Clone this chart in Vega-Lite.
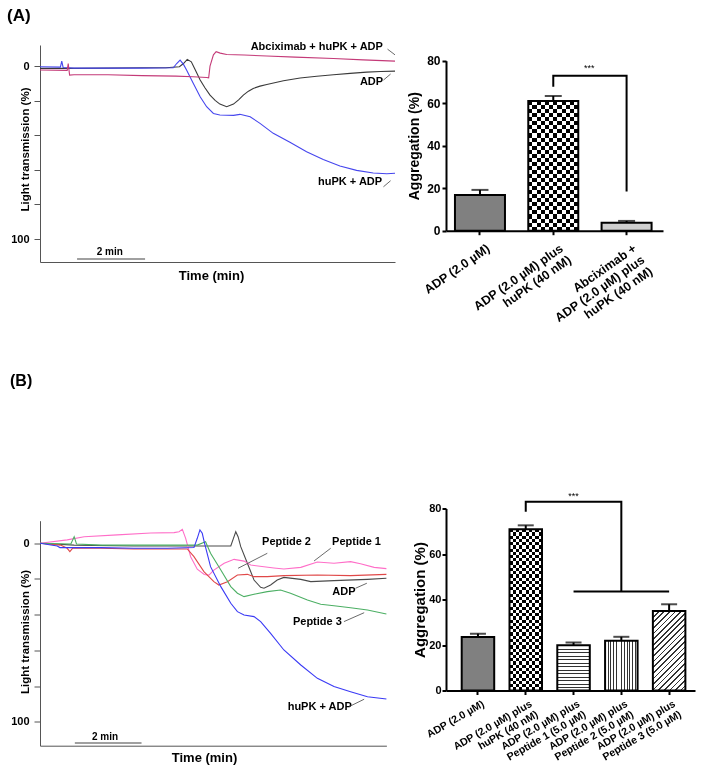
{
  "$schema": "https://vega.github.io/schema/vega-lite/v6.json",
  "padding": {"left": 7, "top": 6, "right": 5, "bottom": 5},
  "background": "white",
  "config": {
    "view": {"stroke": null},
    "font": "Liberation Sans",
    "axis": {"grid": false, "labelFont": "Liberation Sans", "titleFont": "Liberation Sans", "labelFontWeight": "bold", "titleFontWeight": "bold", "labelColor": "#000", "titleColor": "#000"},
    "text": {"font": "Liberation Sans"}
  },
  "columns": 2,
  "spacing": {"row": 246.5, "column": 51},
  "bounds": "flush",
  "resolve": {"scale": {"color": "independent"}},
  "datasets": {
    "traceA": [
      {"s":"ADP","t":0,"v":1.3},{"s":"ADP","t":1.0,"v":1.3},{"s":"ADP","t":2.0,"v":1.2},{"s":"ADP","t":3.0,"v":1.0},{"s":"ADP","t":3.7,"v":1.0},{"s":"ADP","t":4.1,"v":0.4},{"s":"ADP","t":4.22,"v":-1.5},{"s":"ADP","t":4.33,"v":-3.9},{"s":"ADP","t":4.45,"v":-2.5},{"s":"ADP","t":4.55,"v":1.5},{"s":"ADP","t":4.71,"v":8.1},{"s":"ADP","t":4.85,"v":12.5},{"s":"ADP","t":5.0,"v":16.8},{"s":"ADP","t":5.15,"v":19.8},{"s":"ADP","t":5.29,"v":22.0},{"s":"ADP","t":5.49,"v":23.5},{"s":"ADP","t":5.69,"v":22.0},{"s":"ADP","t":5.84,"v":19.5},{"s":"ADP","t":5.98,"v":16.8},{"s":"ADP","t":6.13,"v":14.5},{"s":"ADP","t":6.27,"v":12.9},{"s":"ADP","t":6.47,"v":11.6},{"s":"ADP","t":6.67,"v":10.6},{"s":"ADP","t":7.16,"v":8.5},{"s":"ADP","t":7.65,"v":6.9},{"s":"ADP","t":8.14,"v":5.9},{"s":"ADP","t":8.63,"v":5.0},{"s":"ADP","t":9.12,"v":4.2},{"s":"ADP","t":9.61,"v":3.5},{"s":"ADP","t":10.02,"v":3.1},{"s":"ADP","t":10.44,"v":2.9},
      {"s":"huPK + ADP","t":0,"v":0.4},{"s":"huPK + ADP","t":0.6,"v":0.6},{"s":"huPK + ADP","t":0.64,"v":-2.9},{"s":"huPK + ADP","t":0.68,"v":0.8},{"s":"huPK + ADP","t":1.0,"v":1.2},{"s":"huPK + ADP","t":2.0,"v":1.2},{"s":"huPK + ADP","t":3.0,"v":1.2},{"s":"huPK + ADP","t":3.92,"v":1.0},{"s":"huPK + ADP","t":4.02,"v":-1.5},{"s":"huPK + ADP","t":4.12,"v":-3.5},{"s":"huPK + ADP","t":4.22,"v":-1.0},{"s":"huPK + ADP","t":4.31,"v":2.3},{"s":"huPK + ADP","t":4.51,"v":10.0},{"s":"huPK + ADP","t":4.71,"v":17.7},{"s":"huPK + ADP","t":4.9,"v":23.5},{"s":"huPK + ADP","t":5.1,"v":27.4},{"s":"huPK + ADP","t":5.29,"v":28.3},{"s":"huPK + ADP","t":5.69,"v":28.5},{"s":"huPK + ADP","t":5.88,"v":27.9},{"s":"huPK + ADP","t":6.18,"v":29.3},{"s":"huPK + ADP","t":6.47,"v":33.1},{"s":"huPK + ADP","t":6.86,"v":38.9},{"s":"huPK + ADP","t":7.35,"v":44.0},{"s":"huPK + ADP","t":7.84,"v":49.5},{"s":"huPK + ADP","t":8.33,"v":54.0},{"s":"huPK + ADP","t":8.82,"v":57.8},{"s":"huPK + ADP","t":9.31,"v":60.3},{"s":"huPK + ADP","t":9.8,"v":61.8},{"s":"huPK + ADP","t":10.2,"v":62.3},{"s":"huPK + ADP","t":10.44,"v":62.0},
      {"s":"Abciximab + huPK + ADP","t":0,"v":2.3},{"s":"Abciximab + huPK + ADP","t":0.8,"v":2.5},{"s":"Abciximab + huPK + ADP","t":0.83,"v":-1.5},{"s":"Abciximab + huPK + ADP","t":0.87,"v":5.2},{"s":"Abciximab + huPK + ADP","t":1.0,"v":5.0},{"s":"Abciximab + huPK + ADP","t":2.0,"v":5.0},{"s":"Abciximab + huPK + ADP","t":3.0,"v":5.5},{"s":"Abciximab + huPK + ADP","t":4.0,"v":5.8},{"s":"Abciximab + huPK + ADP","t":4.5,"v":6.2},{"s":"Abciximab + huPK + ADP","t":4.9,"v":6.6},{"s":"Abciximab + huPK + ADP","t":4.96,"v":6.8},{"s":"Abciximab + huPK + ADP","t":5.0,"v":0},{"s":"Abciximab + huPK + ADP","t":5.1,"v":-6.5},{"s":"Abciximab + huPK + ADP","t":5.18,"v":-8.3},{"s":"Abciximab + huPK + ADP","t":5.3,"v":-7.5},{"s":"Abciximab + huPK + ADP","t":5.49,"v":-6.7},{"s":"Abciximab + huPK + ADP","t":6.0,"v":-6.4},{"s":"Abciximab + huPK + ADP","t":6.67,"v":-5.8},{"s":"Abciximab + huPK + ADP","t":7.5,"v":-5.2},{"s":"Abciximab + huPK + ADP","t":8.63,"v":-4.4},{"s":"Abciximab + huPK + ADP","t":9.5,"v":-3.6},{"s":"Abciximab + huPK + ADP","t":10.44,"v":-2.9}
    ],
    "traceB": [
      {"s":"ADP","t":0,"v":0},{"s":"ADP","t":1.03,"v":1.0},{"s":"ADP","t":2.83,"v":1.5},{"s":"ADP","t":4.84,"v":1.5},{"s":"ADP","t":5.75,"v":1.5},{"s":"ADP","t":5.83,"v":-2.8},{"s":"ADP","t":5.9,"v":-6.5},{"s":"ADP","t":5.97,"v":-3.7},{"s":"ADP","t":6.05,"v":1.9},{"s":"ADP","t":6.25,"v":11.2},{"s":"ADP","t":6.45,"v":20.6},{"s":"ADP","t":6.65,"v":24.7},{"s":"ADP","t":6.75,"v":25.2},{"s":"ADP","t":6.95,"v":23.4},{"s":"ADP","t":7.15,"v":20.6},{"s":"ADP","t":7.35,"v":19.1},{"s":"ADP","t":7.86,"v":20.2},{"s":"ADP","t":8.16,"v":21.5},{"s":"ADP","t":8.86,"v":20.9},{"s":"ADP","t":9.87,"v":20.2},{"s":"ADP","t":10.44,"v":19.6},
      {"s":"Peptide 1","t":0,"v":0},{"s":"Peptide 1","t":0.82,"v":-1.9},{"s":"Peptide 1","t":1.33,"v":-3.7},{"s":"Peptide 1","t":2.33,"v":-4.7},{"s":"Peptide 1","t":3.34,"v":-5.8},{"s":"Peptide 1","t":4.04,"v":-6.0},{"s":"Peptide 1","t":4.19,"v":-6.5},{"s":"Peptide 1","t":4.29,"v":-7.8},{"s":"Peptide 1","t":4.39,"v":-2.8},{"s":"Peptide 1","t":4.54,"v":7.5},{"s":"Peptide 1","t":4.74,"v":14.5},{"s":"Peptide 1","t":4.95,"v":17.5},{"s":"Peptide 1","t":5.09,"v":17.8},{"s":"Peptide 1","t":5.24,"v":15.0},{"s":"Peptide 1","t":5.55,"v":11.2},{"s":"Peptide 1","t":5.85,"v":9.0},{"s":"Peptide 1","t":6.15,"v":10.0},{"s":"Peptide 1","t":6.35,"v":12.2},{"s":"Peptide 1","t":7.05,"v":13.8},{"s":"Peptide 1","t":7.35,"v":14.4},{"s":"Peptide 1","t":7.86,"v":13.5},{"s":"Peptide 1","t":8.36,"v":10.5},{"s":"Peptide 1","t":8.86,"v":11.2},{"s":"Peptide 1","t":9.36,"v":10.3},{"s":"Peptide 1","t":9.66,"v":11.5},{"s":"Peptide 1","t":10.07,"v":13.5},{"s":"Peptide 1","t":10.44,"v":14.2},
      {"s":"Peptide 2","t":0,"v":0},{"s":"Peptide 2","t":0.62,"v":1.0},{"s":"Peptide 2","t":0.82,"v":2.8},{"s":"Peptide 2","t":0.9,"v":4.7},{"s":"Peptide 2","t":0.98,"v":2.8},{"s":"Peptide 2","t":1.83,"v":2.8},{"s":"Peptide 2","t":2.83,"v":3.2},{"s":"Peptide 2","t":3.84,"v":3.2},{"s":"Peptide 2","t":4.44,"v":3.2},{"s":"Peptide 2","t":4.64,"v":7.5},{"s":"Peptide 2","t":4.94,"v":15.9},{"s":"Peptide 2","t":5.24,"v":21.5},{"s":"Peptide 2","t":5.39,"v":23.4},{"s":"Peptide 2","t":5.65,"v":21.5},{"s":"Peptide 2","t":5.95,"v":17.8},{"s":"Peptide 2","t":6.25,"v":17.4},{"s":"Peptide 2","t":6.45,"v":18.7},{"s":"Peptide 2","t":6.85,"v":18.7},{"s":"Peptide 2","t":7.35,"v":18.1},{"s":"Peptide 2","t":8.36,"v":17.8},{"s":"Peptide 2","t":9.36,"v":18.1},{"s":"Peptide 2","t":10.44,"v":17.4},
      {"s":"Peptide 3","t":0,"v":0},{"s":"Peptide 3","t":0.93,"v":0.4},{"s":"Peptide 3","t":1.03,"v":-3.7},{"s":"Peptide 3","t":1.1,"v":0.4},{"s":"Peptide 3","t":1.83,"v":1.0},{"s":"Peptide 3","t":2.83,"v":1.0},{"s":"Peptide 3","t":3.84,"v":1.0},{"s":"Peptide 3","t":4.74,"v":1.0},{"s":"Peptide 3","t":4.99,"v":-0.9},{"s":"Peptide 3","t":5.14,"v":5.6},{"s":"Peptide 3","t":5.45,"v":15.0},{"s":"Peptide 3","t":5.75,"v":24.3},{"s":"Peptide 3","t":5.95,"v":28.0},{"s":"Peptide 3","t":6.15,"v":29.9},{"s":"Peptide 3","t":6.45,"v":28.6},{"s":"Peptide 3","t":6.85,"v":27.1},{"s":"Peptide 3","t":7.25,"v":26.2},{"s":"Peptide 3","t":7.55,"v":28.0},{"s":"Peptide 3","t":8.06,"v":31.8},{"s":"Peptide 3","t":8.46,"v":34.2},{"s":"Peptide 3","t":8.86,"v":35.0},{"s":"Peptide 3","t":9.36,"v":36.1},{"s":"Peptide 3","t":9.87,"v":37.4},{"s":"Peptide 3","t":10.44,"v":39.6},
      {"s":"huPK + ADP","t":0,"v":0},{"s":"huPK + ADP","t":0.52,"v":1.5},{"s":"huPK + ADP","t":0.6,"v":2.4},{"s":"huPK + ADP","t":1.83,"v":2.4},{"s":"huPK + ADP","t":2.83,"v":2.8},{"s":"huPK + ADP","t":3.84,"v":2.8},{"s":"huPK + ADP","t":4.64,"v":2.4},{"s":"huPK + ADP","t":4.74,"v":-2.8},{"s":"huPK + ADP","t":4.82,"v":-7.5},{"s":"huPK + ADP","t":4.89,"v":-5.6},{"s":"huPK + ADP","t":4.96,"v":0},{"s":"huPK + ADP","t":5.14,"v":13.1},{"s":"huPK + ADP","t":5.45,"v":24.3},{"s":"huPK + ADP","t":5.75,"v":33.6},{"s":"huPK + ADP","t":5.95,"v":38.3},{"s":"huPK + ADP","t":6.15,"v":40.2},{"s":"huPK + ADP","t":6.45,"v":41.1},{"s":"huPK + ADP","t":6.65,"v":43.9},{"s":"huPK + ADP","t":6.95,"v":50.5},{"s":"huPK + ADP","t":7.35,"v":59.8},{"s":"huPK + ADP","t":7.86,"v":68.2},{"s":"huPK + ADP","t":8.36,"v":75.7},{"s":"huPK + ADP","t":8.86,"v":80.3},{"s":"huPK + ADP","t":9.36,"v":83.2},{"s":"huPK + ADP","t":9.87,"v":86.0},{"s":"huPK + ADP","t":10.44,"v":87.3}
    ],
    "labelsA": [
      {"t":8.14,"v":-11.2,"label":"Abciximab + huPK + ADP"},
      {"t":9.75,"v":9.1,"label":"ADP"},
      {"t":9.12,"v":66.9,"label":"huPK + ADP"}
    ],
    "arrowsA": [
      {"t1":10.22,"v1":-9.8,"t2":10.44,"v2":-6.5},
      {"t1":10.1,"v1":8.1,"t2":10.31,"v2":4.6},
      {"t1":10.1,"v1":69.8,"t2":10.31,"v2":66.3}
    ],
    "labelsB": [
      {"t":7.43,"v":-0.56,"label":"Peptide 2"},
      {"t":9.54,"v":-0.56,"label":"Peptide 1"},
      {"t":9.16,"v":27.1,"label":"ADP"},
      {"t":8.36,"v":43.9,"label":"Peptide 3"},
      {"t":8.43,"v":91.6,"label":"huPK + ADP"}
    ],
    "arrowsB": [
      {"t1":6.85,"v1":5.6,"t2":5.97,"v2":14.0},
      {"t1":8.76,"v1":2.8,"t2":8.26,"v2":9.9},
      {"t1":9.51,"v1":25.2,"t2":9.85,"v2":22.4},
      {"t1":9.16,"v1":43.9,"t2":9.77,"v2":38.9},
      {"t1":9.31,"v1":91.6,"t2":9.77,"v2":87.4}
    ],
    "scalebarA": [{"t1":1.09,"t2":3.09,"v":111.6,"tm":2.05,"vt":107.3,"label":"2 min"}],
    "scalebarB": [{"t1":1.05,"t2":3.06,"v":111.9,"tm":1.96,"vt":108.6,"label":"2 min"}],
    "barsA": [
      {"g":"ADP (2.0 µM)","m":16.8,"e":19.2},
      {"g":"ADP (2.0 µM) plus|huPK (40 nM)","m":61.0,"e":63.4},
      {"g":"Abciximab +|ADP (2.0 µM) plus|huPK (40 nM)","m":3.8,"e":4.6}
    ],
    "bracketA": [
      {"g":"ADP (2.0 µM) plus|huPK (40 nM)","y":67.8,"o":1},
      {"g":"ADP (2.0 µM) plus|huPK (40 nM)","y":72.9,"o":2},
      {"g":"Abciximab +|ADP (2.0 µM) plus|huPK (40 nM)","y":72.9,"o":3},
      {"g":"Abciximab +|ADP (2.0 µM) plus|huPK (40 nM)","y":18.4,"o":4}
    ],
    "starsA": [{"g":"ADP (2.0 µM) plus|huPK (40 nM)","y":76.8,"label":"***"}],
    "barsB": [
      {"g":"ADP (2.0 µM)","m":23.5,"e":25.0},
      {"g":"ADP (2.0 µM) plus|huPK (40 nM)","m":70.9,"e":72.6},
      {"g":"ADP (2.0 µM) plus|Peptide 1 (5.0 µM)","m":19.9,"e":21.1},
      {"g":"ADP (2.0 µM) plus|Peptide 2 (5.0 µM)","m":21.9,"e":23.6},
      {"g":"ADP (2.0 µM) plus|Peptide 3 (5.0 µM)","m":35.0,"e":37.9}
    ],
    "bracketB": [
      {"g":"ADP (2.0 µM) plus|huPK (40 nM)","y":78.6,"o":1,"k":"a"},
      {"g":"ADP (2.0 µM) plus|huPK (40 nM)","y":83.0,"o":2,"k":"a"},
      {"g":"ADP (2.0 µM) plus|Peptide 2 (5.0 µM)","y":83.0,"o":3,"k":"a"},
      {"g":"ADP (2.0 µM) plus|Peptide 2 (5.0 µM)","y":43.5,"o":4,"k":"a"},
      {"g":"ADP (2.0 µM) plus|Peptide 1 (5.0 µM)","y":43.5,"o":1,"k":"b"},
      {"g":"ADP (2.0 µM) plus|Peptide 3 (5.0 µM)","y":43.5,"o":2,"k":"b"}
    ],
    "starsB": [{"g":"ADP (2.0 µM) plus|Peptide 1 (5.0 µM)","y":85.6,"label":"***"}]
  },
  "concat": [
    {
      "width": 355,
      "height": 217,
      "title": {"text": "(A)", "anchor": "start", "frame": "group", "dx": -33, "offset": 16, "fontSize": 17, "fontWeight": "bold", "font": "Liberation Sans", "color": "#000"},
      "layer": [
        {
          "data": {"name": "traceA"},
          "mark": {"type": "line", "strokeWidth": 1.1},
          "encoding": {
            "x": {"field": "t", "type": "quantitative", "scale": {"domain": [0, 10.44], "nice": false, "zero": false},
                  "axis": {"ticks": false, "labels": false, "title": "Time (min)", "titleFontSize": 13, "titlePadding": 7, "titleX": 171, "domainColor": "#555"}},
            "y": {"field": "v", "type": "quantitative", "scale": {"domain": [-12.2, 113.3], "range": [0, 217], "nice": false, "zero": false},
                  "axis": {"values": [0, 20, 40, 60, 80, 100], "labelExpr": "datum.value == 0 || datum.value == 100 ? datum.label : ''", "title": "Light transmission (%)", "titleFontSize": 11.5, "titleX": -9.5, "titleY": 104, "tickSize": 6, "labelPadding": 5, "labelFontSize": 11, "domainColor": "#555", "tickColor": "#555"}},
            "color": {"field": "s", "type": "nominal", "legend": null,
                      "scale": {"domain": ["ADP", "huPK + ADP", "Abciximab + huPK + ADP"], "range": ["#3a3a3a", "#4646ee", "#c43a78"]}}
          }
        },
        {
          "data": {"name": "scalebarA"},
          "mark": {"type": "rule", "color": "#808080", "strokeWidth": 1.5},
          "encoding": {"x": {"field": "t1", "type": "quantitative"}, "x2": {"field": "t2"}, "y": {"field": "v", "type": "quantitative"}}
        },
        {
          "data": {"name": "scalebarA"},
          "mark": {"type": "text", "fontSize": 10, "fontWeight": "bold", "baseline": "middle"},
          "encoding": {"x": {"field": "tm", "type": "quantitative"}, "y": {"field": "vt", "type": "quantitative"}, "text": {"field": "label"}}
        },
        {
          "data": {"name": "labelsA"},
          "mark": {"type": "text", "fontSize": 11, "fontWeight": "bold", "baseline": "middle", "align": "center"},
          "encoding": {"x": {"field": "t", "type": "quantitative"}, "y": {"field": "v", "type": "quantitative"}, "text": {"field": "label"}}
        },
        {
          "data": {"name": "arrowsA"},
          "mark": {"type": "rule", "color": "#444", "strokeWidth": 0.8},
          "encoding": {"x": {"field": "t1", "type": "quantitative"}, "x2": {"field": "t2"}, "y": {"field": "v1", "type": "quantitative"}, "y2": {"field": "v2"}}
        }
      ]
    },
    {
      "width": 217,
      "height": 185.7,
      "layer": [
        {
          "data": {"name": "barsA"},
          "mark": {"type": "bar"},
          "encoding": {
            "x": {"field": "g", "type": "nominal",
                  "scale": {"domain": ["ADP (2.0 µM)", "ADP (2.0 µM) plus|huPK (40 nM)", "Abciximab +|ADP (2.0 µM) plus|huPK (40 nM)"], "paddingInner": 0.318, "paddingOuter": 0.139, "align": 0.44},
                  "axis": {"title": null, "labelExpr": "[pad(split(datum.value,'|')[0], max(length(split(datum.value,'|')[0]), length(split(datum.value,'|')[1] || ''), length(split(datum.value,'|')[2] || '')), '\u2002', 'center'), pad(split(datum.value,'|')[1] || '', max(length(split(datum.value,'|')[0]), length(split(datum.value,'|')[1] || ''), length(split(datum.value,'|')[2] || '')), '\u2002', 'center'), pad(split(datum.value,'|')[2] || '', max(length(split(datum.value,'|')[0]), length(split(datum.value,'|')[1] || ''), length(split(datum.value,'|')[2] || '')), '\u2002', 'center')]", "labelAngle": -35, "labelAlign": "right", "labelBaseline": "top", "labelFontSize": 12.5, "labelLineHeight": 14, "labelPadding": 7, "labelOffset": 5, "tickSize": 4, "tickWidth": 2, "domainWidth": 2, "domainColor": "#000", "tickColor": "#000"}},
            "y": {"field": "m", "type": "quantitative",
                  "scale": {"domain": [0, 80], "range": [185.7, 15.7], "nice": false},
                  "axis": {"values": [0, 20, 40, 60, 80], "title": "Aggregation (%)", "titleFontSize": 14, "titlePadding": 5, "labelFontSize": 12, "labelPadding": 2, "tickSize": 4, "tickWidth": 2, "domainWidth": 2, "domainColor": "#000", "tickColor": "#000"}},
            "color": {"field": "g", "type": "nominal", "legend": null,
                      "scale": {"domain": ["ADP (2.0 µM)", "ADP (2.0 µM) plus|huPK (40 nM)", "Abciximab +|ADP (2.0 µM) plus|huPK (40 nM)"], "range": ["#808080", "#707070", "#cfcfcf"]}}
          }
        },
        {
          "data": {"name": "barsA"},
          "transform": [{"filter": "datum.g == 'ADP (2.0 µM) plus|huPK (40 nM)'"}],
          "mark": {"type": "bar", "fill": {"gradient": "linear", "x1": 0, "y1": 0, "x2": 0, "y2": 1, "stops": [
            {"offset":0,"color":"#000"},{"offset":0.03125,"color":"#000"},{"offset":0.03125,"color":"#fff"},{"offset":0.0625,"color":"#fff"},
            {"offset":0.0625,"color":"#000"},{"offset":0.09375,"color":"#000"},{"offset":0.09375,"color":"#fff"},{"offset":0.125,"color":"#fff"},
            {"offset":0.125,"color":"#000"},{"offset":0.15625,"color":"#000"},{"offset":0.15625,"color":"#fff"},{"offset":0.1875,"color":"#fff"},
            {"offset":0.1875,"color":"#000"},{"offset":0.21875,"color":"#000"},{"offset":0.21875,"color":"#fff"},{"offset":0.25,"color":"#fff"},
            {"offset":0.25,"color":"#000"},{"offset":0.28125,"color":"#000"},{"offset":0.28125,"color":"#fff"},{"offset":0.3125,"color":"#fff"},
            {"offset":0.3125,"color":"#000"},{"offset":0.34375,"color":"#000"},{"offset":0.34375,"color":"#fff"},{"offset":0.375,"color":"#fff"},
            {"offset":0.375,"color":"#000"},{"offset":0.40625,"color":"#000"},{"offset":0.40625,"color":"#fff"},{"offset":0.4375,"color":"#fff"},
            {"offset":0.4375,"color":"#000"},{"offset":0.46875,"color":"#000"},{"offset":0.46875,"color":"#fff"},{"offset":0.5,"color":"#fff"},
            {"offset":0.5,"color":"#000"},{"offset":0.53125,"color":"#000"},{"offset":0.53125,"color":"#fff"},{"offset":0.5625,"color":"#fff"},
            {"offset":0.5625,"color":"#000"},{"offset":0.59375,"color":"#000"},{"offset":0.59375,"color":"#fff"},{"offset":0.625,"color":"#fff"},
            {"offset":0.625,"color":"#000"},{"offset":0.65625,"color":"#000"},{"offset":0.65625,"color":"#fff"},{"offset":0.6875,"color":"#fff"},
            {"offset":0.6875,"color":"#000"},{"offset":0.71875,"color":"#000"},{"offset":0.71875,"color":"#fff"},{"offset":0.75,"color":"#fff"},
            {"offset":0.75,"color":"#000"},{"offset":0.78125,"color":"#000"},{"offset":0.78125,"color":"#fff"},{"offset":0.8125,"color":"#fff"},
            {"offset":0.8125,"color":"#000"},{"offset":0.84375,"color":"#000"},{"offset":0.84375,"color":"#fff"},{"offset":0.875,"color":"#fff"},
            {"offset":0.875,"color":"#000"},{"offset":0.90625,"color":"#000"},{"offset":0.90625,"color":"#fff"},{"offset":0.9375,"color":"#fff"},
            {"offset":0.9375,"color":"#000"},{"offset":0.96875,"color":"#000"},{"offset":0.96875,"color":"#fff"},{"offset":1,"color":"#fff"}]}},
          "encoding": {"x": {"field": "g", "type": "nominal"}, "y": {"field": "m", "type": "quantitative"}}
        },
        {
          "data": {"name": "barsA"},
          "transform": [{"filter": "datum.g == 'ADP (2.0 µM) plus|huPK (40 nM)'"}],
          "mark": {"type": "bar", "blend": "difference", "fill": {"gradient": "linear", "x1": 0, "y1": 0, "x2": 1, "y2": 0, "stops": [
            {"offset":0,"color":"#000"},{"offset":0.08333,"color":"#000"},{"offset":0.08333,"color":"#fff"},{"offset":0.16667,"color":"#fff"},
            {"offset":0.16667,"color":"#000"},{"offset":0.25,"color":"#000"},{"offset":0.25,"color":"#fff"},{"offset":0.33333,"color":"#fff"},
            {"offset":0.33333,"color":"#000"},{"offset":0.41667,"color":"#000"},{"offset":0.41667,"color":"#fff"},{"offset":0.5,"color":"#fff"},
            {"offset":0.5,"color":"#000"},{"offset":0.58333,"color":"#000"},{"offset":0.58333,"color":"#fff"},{"offset":0.66667,"color":"#fff"},
            {"offset":0.66667,"color":"#000"},{"offset":0.75,"color":"#000"},{"offset":0.75,"color":"#fff"},{"offset":0.83333,"color":"#fff"},
            {"offset":0.83333,"color":"#000"},{"offset":0.91667,"color":"#000"},{"offset":0.91667,"color":"#fff"},{"offset":1,"color":"#fff"}]}},
          "encoding": {"x": {"field": "g", "type": "nominal"}, "y": {"field": "m", "type": "quantitative"}}
        },
        {
          "data": {"name": "barsA"},
          "mark": {"type": "bar", "fill": "transparent", "stroke": "#000", "strokeWidth": 2},
          "encoding": {"x": {"field": "g", "type": "nominal"}, "y": {"field": "m", "type": "quantitative"}}
        },
        {
          "data": {"name": "barsA"},
          "mark": {"type": "rule", "color": "#000", "strokeWidth": 2},
          "encoding": {"x": {"field": "g", "type": "nominal"}, "y": {"field": "m", "type": "quantitative"}, "y2": {"field": "e"}}
        },
        {
          "data": {"name": "barsA"},
          "mark": {"type": "tick", "color": "#000", "size": 17, "thickness": 2, "orient": "horizontal"},
          "encoding": {"x": {"field": "g", "type": "nominal"}, "y": {"field": "e", "type": "quantitative"}}
        },
        {
          "data": {"name": "bracketA"},
          "mark": {"type": "line", "color": "#000", "strokeWidth": 2},
          "encoding": {"x": {"field": "g", "type": "nominal"}, "y": {"field": "y", "type": "quantitative"}, "order": {"field": "o"}}
        },
        {
          "data": {"name": "starsA"},
          "mark": {"type": "text", "fontSize": 9, "dx": 36, "baseline": "middle"},
          "encoding": {"x": {"field": "g", "type": "nominal"}, "y": {"field": "y", "type": "quantitative"}, "text": {"field": "label"}}
        }
      ]
    },
    {
      "width": 346.4,
      "height": 237.2,
      "title": {"text": "(B)", "anchor": "start", "frame": "group", "dx": -30, "offset": 120, "fontSize": 16, "fontWeight": "bold", "font": "Liberation Sans", "color": "#000"},
      "layer": [
        {
          "data": {"name": "traceB"},
          "mark": {"type": "line", "strokeWidth": 1.1},
          "encoding": {
            "x": {"field": "t", "type": "quantitative", "scale": {"domain": [0, 10.44], "nice": false, "zero": false},
                  "axis": {"ticks": false, "labels": false, "title": "Time (min)", "titleFontSize": 13, "titlePadding": 6, "titleX": 164, "domainColor": "#555"}},
            "y": {"field": "v", "type": "quantitative", "scale": {"domain": [-12.67, 113.45], "range": [12.2, 237.2], "nice": false, "zero": false},
                  "axis": {"values": [0, 20, 40, 60, 80, 100], "labelExpr": "datum.value == 0 || datum.value == 100 ? datum.label : ''", "title": "Light transmission (%)", "titleFontSize": 11.5, "titleX": -9.5, "titleY": 123, "tickSize": 6, "labelPadding": 5, "labelFontSize": 11, "domainColor": "#555", "tickColor": "#555"}},
            "color": {"field": "s", "type": "nominal", "legend": null,
                      "scale": {"domain": ["ADP", "Peptide 1", "Peptide 2", "Peptide 3", "huPK + ADP"], "range": ["#4a4a4a", "#ff6ec8", "#e04848", "#4caf64", "#3a3af5"]}}
          }
        },
        {
          "data": {"name": "scalebarB"},
          "mark": {"type": "rule", "color": "#808080", "strokeWidth": 1.5},
          "encoding": {"x": {"field": "t1", "type": "quantitative"}, "x2": {"field": "t2"}, "y": {"field": "v", "type": "quantitative"}}
        },
        {
          "data": {"name": "scalebarB"},
          "mark": {"type": "text", "fontSize": 10, "fontWeight": "bold", "baseline": "middle"},
          "encoding": {"x": {"field": "tm", "type": "quantitative"}, "y": {"field": "vt", "type": "quantitative"}, "text": {"field": "label"}}
        },
        {
          "data": {"name": "labelsB"},
          "mark": {"type": "text", "fontSize": 11, "fontWeight": "bold", "baseline": "middle", "align": "center"},
          "encoding": {"x": {"field": "t", "type": "quantitative"}, "y": {"field": "v", "type": "quantitative"}, "text": {"field": "label"}}
        },
        {
          "data": {"name": "arrowsB"},
          "mark": {"type": "rule", "color": "#444", "strokeWidth": 0.8},
          "encoding": {"x": {"field": "t1", "type": "quantitative"}, "x2": {"field": "t2"}, "y": {"field": "v1", "type": "quantitative"}, "y2": {"field": "v2"}}
        }
      ]
    },
    {
      "width": 249,
      "height": 182,
      "layer": [
        {
          "data": {"name": "barsB"},
          "mark": {"type": "bar"},
          "encoding": {
            "x": {"field": "g", "type": "nominal",
                  "scale": {"domain": ["ADP (2.0 µM)", "ADP (2.0 µM) plus|huPK (40 nM)", "ADP (2.0 µM) plus|Peptide 1 (5.0 µM)", "ADP (2.0 µM) plus|Peptide 2 (5.0 µM)", "ADP (2.0 µM) plus|Peptide 3 (5.0 µM)"], "paddingInner": 0.32, "paddingOuter": 0.265, "align": 0.62},
                  "axis": {"title": null, "labelExpr": "[pad(split(datum.value,'|')[0], max(length(split(datum.value,'|')[0]), length(split(datum.value,'|')[1] || '')), '\u2002', 'center'), pad(split(datum.value,'|')[1] || '', max(length(split(datum.value,'|')[0]), length(split(datum.value,'|')[1] || '')), '\u2002', 'center')]", "labelAngle": -30, "labelAlign": "right", "labelBaseline": "top", "labelFontSize": 10.5, "labelLineHeight": 12, "labelPadding": 4, "labelOffset": 3, "tickSize": 4, "tickWidth": 2, "domainWidth": 2, "domainColor": "#000", "tickColor": "#000"}},
            "y": {"field": "m", "type": "quantitative",
                  "scale": {"domain": [0, 80], "nice": false},
                  "axis": {"values": [0, 20, 40, 60, 80], "title": "Aggregation (%)", "titleFontSize": 15, "titlePadding": 1, "labelFontSize": 11, "labelPadding": 1, "tickSize": 4, "tickWidth": 2, "domainWidth": 2, "domainColor": "#000", "tickColor": "#000"}},
            "color": {"field": "g", "type": "nominal", "legend": null,
                      "scale": {"domain": ["ADP (2.0 µM)", "ADP (2.0 µM) plus|huPK (40 nM)", "ADP (2.0 µM) plus|Peptide 1 (5.0 µM)", "ADP (2.0 µM) plus|Peptide 2 (5.0 µM)", "ADP (2.0 µM) plus|Peptide 3 (5.0 µM)"], "range": ["#808080", "#707070", "#a8a8a8", "#a8a8a8", "#b4b4b4"]}}
          }
        },
        {
          "data": {"name": "barsB"},
          "transform": [{"filter": "datum.g == 'ADP (2.0 µM) plus|huPK (40 nM)'"}],
          "mark": {"type": "bar", "fill": {"gradient": "linear", "x1": 0, "y1": 0, "x2": 0, "y2": 1, "stops": [
            {"offset":0,"color":"#000"},{"offset":0.02,"color":"#000"},{"offset":0.02,"color":"#fff"},{"offset":0.04,"color":"#fff"},
            {"offset":0.04,"color":"#000"},{"offset":0.06,"color":"#000"},{"offset":0.06,"color":"#fff"},{"offset":0.08,"color":"#fff"},
            {"offset":0.08,"color":"#000"},{"offset":0.1,"color":"#000"},{"offset":0.1,"color":"#fff"},{"offset":0.12,"color":"#fff"},
            {"offset":0.12,"color":"#000"},{"offset":0.14,"color":"#000"},{"offset":0.14,"color":"#fff"},{"offset":0.16,"color":"#fff"},
            {"offset":0.16,"color":"#000"},{"offset":0.18,"color":"#000"},{"offset":0.18,"color":"#fff"},{"offset":0.2,"color":"#fff"},
            {"offset":0.2,"color":"#000"},{"offset":0.22,"color":"#000"},{"offset":0.22,"color":"#fff"},{"offset":0.24,"color":"#fff"},
            {"offset":0.24,"color":"#000"},{"offset":0.26,"color":"#000"},{"offset":0.26,"color":"#fff"},{"offset":0.28,"color":"#fff"},
            {"offset":0.28,"color":"#000"},{"offset":0.3,"color":"#000"},{"offset":0.3,"color":"#fff"},{"offset":0.32,"color":"#fff"},
            {"offset":0.32,"color":"#000"},{"offset":0.34,"color":"#000"},{"offset":0.34,"color":"#fff"},{"offset":0.36,"color":"#fff"},
            {"offset":0.36,"color":"#000"},{"offset":0.38,"color":"#000"},{"offset":0.38,"color":"#fff"},{"offset":0.4,"color":"#fff"},
            {"offset":0.4,"color":"#000"},{"offset":0.42,"color":"#000"},{"offset":0.42,"color":"#fff"},{"offset":0.44,"color":"#fff"},
            {"offset":0.44,"color":"#000"},{"offset":0.46,"color":"#000"},{"offset":0.46,"color":"#fff"},{"offset":0.48,"color":"#fff"},
            {"offset":0.48,"color":"#000"},{"offset":0.5,"color":"#000"},{"offset":0.5,"color":"#fff"},{"offset":0.52,"color":"#fff"},
            {"offset":0.52,"color":"#000"},{"offset":0.54,"color":"#000"},{"offset":0.54,"color":"#fff"},{"offset":0.56,"color":"#fff"},
            {"offset":0.56,"color":"#000"},{"offset":0.58,"color":"#000"},{"offset":0.58,"color":"#fff"},{"offset":0.6,"color":"#fff"},
            {"offset":0.6,"color":"#000"},{"offset":0.62,"color":"#000"},{"offset":0.62,"color":"#fff"},{"offset":0.64,"color":"#fff"},
            {"offset":0.64,"color":"#000"},{"offset":0.66,"color":"#000"},{"offset":0.66,"color":"#fff"},{"offset":0.68,"color":"#fff"},
            {"offset":0.68,"color":"#000"},{"offset":0.7,"color":"#000"},{"offset":0.7,"color":"#fff"},{"offset":0.72,"color":"#fff"},
            {"offset":0.72,"color":"#000"},{"offset":0.74,"color":"#000"},{"offset":0.74,"color":"#fff"},{"offset":0.76,"color":"#fff"},
            {"offset":0.76,"color":"#000"},{"offset":0.78,"color":"#000"},{"offset":0.78,"color":"#fff"},{"offset":0.8,"color":"#fff"},
            {"offset":0.8,"color":"#000"},{"offset":0.82,"color":"#000"},{"offset":0.82,"color":"#fff"},{"offset":0.84,"color":"#fff"},
            {"offset":0.84,"color":"#000"},{"offset":0.86,"color":"#000"},{"offset":0.86,"color":"#fff"},{"offset":0.88,"color":"#fff"},
            {"offset":0.88,"color":"#000"},{"offset":0.9,"color":"#000"},{"offset":0.9,"color":"#fff"},{"offset":0.92,"color":"#fff"},
            {"offset":0.92,"color":"#000"},{"offset":0.94,"color":"#000"},{"offset":0.94,"color":"#fff"},{"offset":0.96,"color":"#fff"},
            {"offset":0.96,"color":"#000"},{"offset":0.98,"color":"#000"},{"offset":0.98,"color":"#fff"},{"offset":1,"color":"#fff"}]}},
          "encoding": {"x": {"field": "g", "type": "nominal"}, "y": {"field": "m", "type": "quantitative"}}
        },
        {
          "data": {"name": "barsB"},
          "transform": [{"filter": "datum.g == 'ADP (2.0 µM) plus|huPK (40 nM)'"}],
          "mark": {"type": "bar", "blend": "difference", "fill": {"gradient": "linear", "x1": 0, "y1": 0, "x2": 1, "y2": 0, "stops": [
            {"offset":0,"color":"#000"},{"offset":0.1,"color":"#000"},{"offset":0.1,"color":"#fff"},{"offset":0.2,"color":"#fff"},
            {"offset":0.2,"color":"#000"},{"offset":0.3,"color":"#000"},{"offset":0.3,"color":"#fff"},{"offset":0.4,"color":"#fff"},
            {"offset":0.4,"color":"#000"},{"offset":0.5,"color":"#000"},{"offset":0.5,"color":"#fff"},{"offset":0.6,"color":"#fff"},
            {"offset":0.6,"color":"#000"},{"offset":0.7,"color":"#000"},{"offset":0.7,"color":"#fff"},{"offset":0.8,"color":"#fff"},
            {"offset":0.8,"color":"#000"},{"offset":0.9,"color":"#000"},{"offset":0.9,"color":"#fff"},{"offset":1,"color":"#fff"}]}},
          "encoding": {"x": {"field": "g", "type": "nominal"}, "y": {"field": "m", "type": "quantitative"}}
        },
        {
          "data": {"name": "barsB"},
          "transform": [{"filter": "datum.g == 'ADP (2.0 µM) plus|Peptide 1 (5.0 µM)'"}],
          "mark": {"type": "bar", "fill": {"gradient": "linear", "x1": 0, "y1": 0, "x2": 0, "y2": 1, "stops": [
            {"offset":0,"color":"#333"},{"offset":0.023,"color":"#333"},{"offset":0.023,"color":"#fff"},{"offset":0.07692,"color":"#fff"},
            {"offset":0.07692,"color":"#333"},{"offset":0.09992,"color":"#333"},{"offset":0.09992,"color":"#fff"},{"offset":0.15385,"color":"#fff"},
            {"offset":0.15385,"color":"#333"},{"offset":0.17685,"color":"#333"},{"offset":0.17685,"color":"#fff"},{"offset":0.23077,"color":"#fff"},
            {"offset":0.23077,"color":"#333"},{"offset":0.25377,"color":"#333"},{"offset":0.25377,"color":"#fff"},{"offset":0.30769,"color":"#fff"},
            {"offset":0.30769,"color":"#333"},{"offset":0.33069,"color":"#333"},{"offset":0.33069,"color":"#fff"},{"offset":0.38462,"color":"#fff"},
            {"offset":0.38462,"color":"#333"},{"offset":0.40762,"color":"#333"},{"offset":0.40762,"color":"#fff"},{"offset":0.46154,"color":"#fff"},
            {"offset":0.46154,"color":"#333"},{"offset":0.48454,"color":"#333"},{"offset":0.48454,"color":"#fff"},{"offset":0.53846,"color":"#fff"},
            {"offset":0.53846,"color":"#333"},{"offset":0.56146,"color":"#333"},{"offset":0.56146,"color":"#fff"},{"offset":0.61538,"color":"#fff"},
            {"offset":0.61538,"color":"#333"},{"offset":0.63838,"color":"#333"},{"offset":0.63838,"color":"#fff"},{"offset":0.69231,"color":"#fff"},
            {"offset":0.69231,"color":"#333"},{"offset":0.71531,"color":"#333"},{"offset":0.71531,"color":"#fff"},{"offset":0.76923,"color":"#fff"},
            {"offset":0.76923,"color":"#333"},{"offset":0.79223,"color":"#333"},{"offset":0.79223,"color":"#fff"},{"offset":0.84615,"color":"#fff"},
            {"offset":0.84615,"color":"#333"},{"offset":0.86915,"color":"#333"},{"offset":0.86915,"color":"#fff"},{"offset":0.92308,"color":"#fff"},
            {"offset":0.92308,"color":"#333"},{"offset":0.94608,"color":"#333"},{"offset":0.94608,"color":"#fff"},{"offset":1,"color":"#fff"}]}},
          "encoding": {"x": {"field": "g", "type": "nominal"}, "y": {"field": "m", "type": "quantitative"}}
        },
        {
          "data": {"name": "barsB"},
          "transform": [{"filter": "datum.g == 'ADP (2.0 µM) plus|Peptide 2 (5.0 µM)'"}],
          "mark": {"type": "bar", "fill": {"gradient": "linear", "x1": 0, "y1": 0, "x2": 1, "y2": 0, "stops": [
            {"offset":0,"color":"#333"},{"offset":0.025,"color":"#333"},{"offset":0.025,"color":"#fff"},{"offset":0.08333,"color":"#fff"},
            {"offset":0.08333,"color":"#333"},{"offset":0.10833,"color":"#333"},{"offset":0.10833,"color":"#fff"},{"offset":0.16667,"color":"#fff"},
            {"offset":0.16667,"color":"#333"},{"offset":0.19167,"color":"#333"},{"offset":0.19167,"color":"#fff"},{"offset":0.25,"color":"#fff"},
            {"offset":0.25,"color":"#333"},{"offset":0.275,"color":"#333"},{"offset":0.275,"color":"#fff"},{"offset":0.33333,"color":"#fff"},
            {"offset":0.33333,"color":"#333"},{"offset":0.35833,"color":"#333"},{"offset":0.35833,"color":"#fff"},{"offset":0.41667,"color":"#fff"},
            {"offset":0.41667,"color":"#333"},{"offset":0.44167,"color":"#333"},{"offset":0.44167,"color":"#fff"},{"offset":0.5,"color":"#fff"},
            {"offset":0.5,"color":"#333"},{"offset":0.525,"color":"#333"},{"offset":0.525,"color":"#fff"},{"offset":0.58333,"color":"#fff"},
            {"offset":0.58333,"color":"#333"},{"offset":0.60833,"color":"#333"},{"offset":0.60833,"color":"#fff"},{"offset":0.66667,"color":"#fff"},
            {"offset":0.66667,"color":"#333"},{"offset":0.69167,"color":"#333"},{"offset":0.69167,"color":"#fff"},{"offset":0.75,"color":"#fff"},
            {"offset":0.75,"color":"#333"},{"offset":0.775,"color":"#333"},{"offset":0.775,"color":"#fff"},{"offset":0.83333,"color":"#fff"},
            {"offset":0.83333,"color":"#333"},{"offset":0.85833,"color":"#333"},{"offset":0.85833,"color":"#fff"},{"offset":0.91667,"color":"#fff"},
            {"offset":0.91667,"color":"#333"},{"offset":0.94167,"color":"#333"},{"offset":0.94167,"color":"#fff"},{"offset":1,"color":"#fff"}]}},
          "encoding": {"x": {"field": "g", "type": "nominal"}, "y": {"field": "m", "type": "quantitative"}}
        },
        {
          "data": {"name": "barsB"},
          "transform": [{"filter": "datum.g == 'ADP (2.0 µM) plus|Peptide 3 (5.0 µM)'"}],
          "mark": {"type": "bar", "fill": {"gradient": "linear", "x1": 0, "y1": 0, "x2": 0.493, "y2": 1.207, "stops": [
            {"offset":0,"color":"#333"},{"offset":0.015,"color":"#333"},{"offset":0.015,"color":"#fff"},{"offset":0.05,"color":"#fff"},
            {"offset":0.05,"color":"#333"},{"offset":0.065,"color":"#333"},{"offset":0.065,"color":"#fff"},{"offset":0.1,"color":"#fff"},
            {"offset":0.1,"color":"#333"},{"offset":0.115,"color":"#333"},{"offset":0.115,"color":"#fff"},{"offset":0.15,"color":"#fff"},
            {"offset":0.15,"color":"#333"},{"offset":0.165,"color":"#333"},{"offset":0.165,"color":"#fff"},{"offset":0.2,"color":"#fff"},
            {"offset":0.2,"color":"#333"},{"offset":0.215,"color":"#333"},{"offset":0.215,"color":"#fff"},{"offset":0.25,"color":"#fff"},
            {"offset":0.25,"color":"#333"},{"offset":0.265,"color":"#333"},{"offset":0.265,"color":"#fff"},{"offset":0.3,"color":"#fff"},
            {"offset":0.3,"color":"#333"},{"offset":0.315,"color":"#333"},{"offset":0.315,"color":"#fff"},{"offset":0.35,"color":"#fff"},
            {"offset":0.35,"color":"#333"},{"offset":0.365,"color":"#333"},{"offset":0.365,"color":"#fff"},{"offset":0.4,"color":"#fff"},
            {"offset":0.4,"color":"#333"},{"offset":0.415,"color":"#333"},{"offset":0.415,"color":"#fff"},{"offset":0.45,"color":"#fff"},
            {"offset":0.45,"color":"#333"},{"offset":0.465,"color":"#333"},{"offset":0.465,"color":"#fff"},{"offset":0.5,"color":"#fff"},
            {"offset":0.5,"color":"#333"},{"offset":0.515,"color":"#333"},{"offset":0.515,"color":"#fff"},{"offset":0.55,"color":"#fff"},
            {"offset":0.55,"color":"#333"},{"offset":0.565,"color":"#333"},{"offset":0.565,"color":"#fff"},{"offset":0.6,"color":"#fff"},
            {"offset":0.6,"color":"#333"},{"offset":0.615,"color":"#333"},{"offset":0.615,"color":"#fff"},{"offset":0.65,"color":"#fff"},
            {"offset":0.65,"color":"#333"},{"offset":0.665,"color":"#333"},{"offset":0.665,"color":"#fff"},{"offset":0.7,"color":"#fff"},
            {"offset":0.7,"color":"#333"},{"offset":0.715,"color":"#333"},{"offset":0.715,"color":"#fff"},{"offset":0.75,"color":"#fff"},
            {"offset":0.75,"color":"#333"},{"offset":0.765,"color":"#333"},{"offset":0.765,"color":"#fff"},{"offset":0.8,"color":"#fff"},
            {"offset":0.8,"color":"#333"},{"offset":0.815,"color":"#333"},{"offset":0.815,"color":"#fff"},{"offset":0.85,"color":"#fff"},
            {"offset":0.85,"color":"#333"},{"offset":0.865,"color":"#333"},{"offset":0.865,"color":"#fff"},{"offset":0.9,"color":"#fff"},
            {"offset":0.9,"color":"#333"},{"offset":0.915,"color":"#333"},{"offset":0.915,"color":"#fff"},{"offset":0.95,"color":"#fff"},
            {"offset":0.95,"color":"#333"},{"offset":0.965,"color":"#333"},{"offset":0.965,"color":"#fff"},{"offset":1,"color":"#fff"}]}},
          "encoding": {"x": {"field": "g", "type": "nominal"}, "y": {"field": "m", "type": "quantitative"}}
        },
        {
          "data": {"name": "barsB"},
          "mark": {"type": "bar", "fill": "transparent", "stroke": "#000", "strokeWidth": 2},
          "encoding": {"x": {"field": "g", "type": "nominal"}, "y": {"field": "m", "type": "quantitative"}}
        },
        {
          "data": {"name": "barsB"},
          "mark": {"type": "rule", "color": "#000", "strokeWidth": 2},
          "encoding": {"x": {"field": "g", "type": "nominal"}, "y": {"field": "m", "type": "quantitative"}, "y2": {"field": "e"}}
        },
        {
          "data": {"name": "barsB"},
          "mark": {"type": "tick", "color": "#000", "size": 16, "thickness": 2, "orient": "horizontal"},
          "encoding": {"x": {"field": "g", "type": "nominal"}, "y": {"field": "e", "type": "quantitative"}}
        },
        {
          "data": {"name": "bracketB"},
          "mark": {"type": "line", "color": "#000", "strokeWidth": 2},
          "encoding": {"x": {"field": "g", "type": "nominal"}, "y": {"field": "y", "type": "quantitative"}, "order": {"field": "o"}, "detail": {"field": "k"}}
        },
        {
          "data": {"name": "starsB"},
          "mark": {"type": "text", "fontSize": 9, "baseline": "middle", "clip": false},
          "encoding": {"x": {"field": "g", "type": "nominal"}, "y": {"field": "y", "type": "quantitative"}, "text": {"field": "label"}}
        }
      ]
    }
  ]
}
